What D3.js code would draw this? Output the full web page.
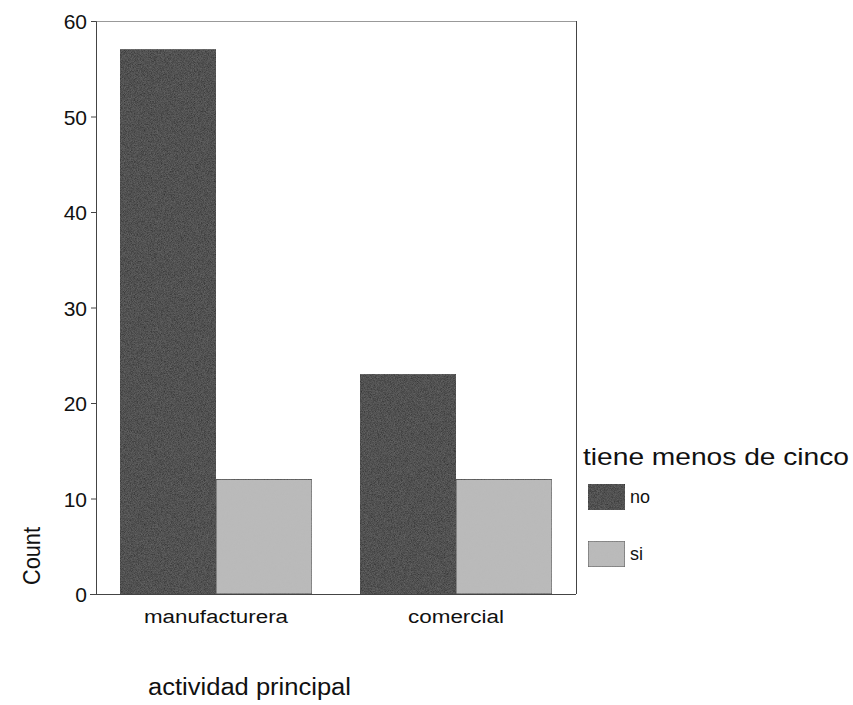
<!DOCTYPE html>
<html><head><meta charset="utf-8">
<script src="https://cdn.jsdelivr.net/npm/d3@7"></script>
<style>body{margin:0;background:#fff}svg{display:block}text{font-family:Arial,"Liberation Sans",sans-serif;fill:#111}</style>
</head><body>
<script>
const categories = ["manufacturera", "comercial"];
const groups = ["no", "si"];
const noValues = [57, 23];
const siValues = [12, 12];
const yTicks = [0, 10, 20, 30, 40, 50, 60];
const colors = ["#1e1e1e", "#bababa"];

const W = 853, H = 705;
const mLeft = 96, mRight = 576, mTop = 21, mBottom = 594;
const svg = d3.select("body").append("svg").attr("width", W).attr("height", H);

const defs = svg.append("defs");
const filt = defs.append("filter").attr("id","grain").attr("x",0).attr("y",0).attr("width",1).attr("height",1);
filt.append("feTurbulence").attr("type","fractalNoise").attr("baseFrequency",1.3).attr("numOctaves",1).attr("seed",3).attr("result","n");
filt.append("feColorMatrix").attr("in","n").attr("type","matrix")
  .attr("values","0 0 0 0 0.5  0 0 0 0 0.5  0 0 0 0 0.5  0 0 0 0.3 0").attr("result","g");
filt.append("feComposite").attr("in","g").attr("in2","SourceGraphic").attr("operator","in").attr("result","gc");
filt.append("feMerge").call(m=>{m.append("feMergeNode").attr("in","SourceGraphic");m.append("feMergeNode").attr("in","gc");});

const y = d3.scaleLinear().domain([0, 60]).range([mBottom, mTop]);
const x0 = d3.scaleBand().domain(categories).range([mLeft, mRight]).paddingInner(0.2).paddingOuter(0.1);
const x1 = d3.scaleBand().domain(groups).range([0, x0.bandwidth()]);

const data = categories.map((c, i) => ({c, vals: [noValues[i], siValues[i]]}));

// frame
svg.append("line").attr("x1", mLeft).attr("x2", mRight).attr("y1", mTop + 0.5).attr("y2", mTop + 0.5).attr("stroke", "#999").attr("stroke-width", 1);
svg.append("line").attr("x1", mRight + 0.5).attr("x2", mRight + 0.5).attr("y1", mTop).attr("y2", mBottom).attr("stroke", "#444").attr("stroke-width", 1);

// bars
const g = svg.append("g");
data.forEach(d => {
  d.vals.forEach((v, j) => {
    g.append("rect")
      .attr("x", x0(d.c) + x1(groups[j]))
      .attr("y", y(v))
      .attr("width", x1.bandwidth())
      .attr("height", y(0) - y(v))
      .attr("fill", colors[j])
      .attr("stroke", "#1a1a1a").attr("stroke-width", 0.8)
      .attr("filter", "url(#grain)");
  });
});

// y axis
const ya = svg.append("g").attr("transform", `translate(${mLeft},0)`)
  .call(d3.axisLeft(y).tickValues(yTicks).tickSize(5).tickPadding(4));
ya.select(".domain").attr("stroke", "#444");
ya.selectAll(".tick line").attr("stroke", "#444");
ya.selectAll("text").style("font-size", "21px").attr("fill", "#111").attr("dy", "0.36em");

// x axis
const labelWidths = {manufacturera: 144, comercial: 96};
const xa = svg.append("g").attr("transform", `translate(0,${mBottom})`)
  .call(d3.axisBottom(x0).tickSize(0).tickPadding(16).tickSizeOuter(0));
xa.select(".domain").attr("stroke", "#444").attr("d", `M${mLeft - 6},0.5H${mRight}`);
xa.selectAll("text").style("font-size", "18px").attr("fill", "#111")
  .attr("textLength", d => labelWidths[d]).attr("lengthAdjust", "spacingAndGlyphs");

// titles
svg.append("text").attr("x", 148).attr("y", 695).style("font-size", "23px")
  .attr("textLength", 203).attr("lengthAdjust", "spacingAndGlyphs").text("actividad principal");
svg.append("text").attr("transform", "translate(40,556) rotate(-90)").attr("text-anchor", "middle")
  .style("font-size", "23px").attr("textLength", 58).attr("lengthAdjust", "spacingAndGlyphs").text("Count");

// legend
svg.append("text").attr("x", 583).attr("y", 465).style("font-size", "24px")
  .attr("textLength", 266).attr("lengthAdjust", "spacingAndGlyphs").text("tiene menos de cinco");
const lg = svg.append("g");
const legW = [20, 13];
groups.forEach((gname, j) => {
  const yy = [484, 541][j];
  lg.append("rect").attr("x", 588).attr("y", yy).attr("width", 37).attr("height", 26)
    .attr("fill", colors[j]).attr("stroke", "#222").attr("stroke-width", 0.8).attr("filter", "url(#grain)");
  lg.append("text").attr("x", 630).attr("y", yy + 19).style("font-size", "18px")
    .attr("textLength", legW[j]).attr("lengthAdjust", "spacingAndGlyphs").text(gname);
});
</script>
</body></html>
